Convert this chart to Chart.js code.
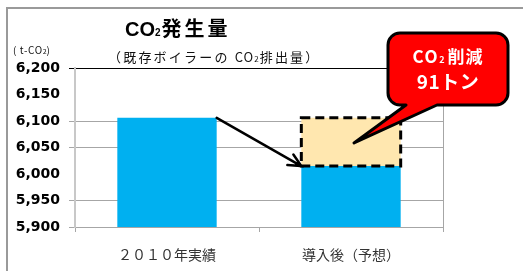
<!DOCTYPE html>
<html>
<head>
<meta charset="utf-8">
<script src="https://cdn.jsdelivr.net/npm/chart.js@4/dist/chart.umd.min.js"></script>
<style>
  html, body { margin: 0; padding: 0; background: #fff; }
  canvas { display: block; }
</style>
</head>
<body>
<canvas id="c" width="523" height="271"></canvas>
<script>
// CO2 emissions, existing boiler vs after introduction — stacked bar with
// dashed "reduction" block, arrow and red callout.
const categories = ["２０１０年実績", "導入後（予想）"];
const emissions = [6106, 6015];          // t-CO2
const reduction = [null, 91];            // t-CO2 cut, drawn on top of bar 2
const yMin = 5900, yMax = 6200, yStep = 50;
const hiddenGrid = [6150, 6000];         // gridlines that do not show in the source image

const BLUE = "#00B0F0";
const PEACH = "#FFE7AF";
const GRID = "#A6A6A6";
const JP = "'Noto Sans CJK JP', 'Noto Sans', sans-serif";

function gridColor(c) {
  const v = c.tick ? c.tick.value : null;
  if (v === yMax) return "#000";
  if (hiddenGrid.includes(v)) return "rgba(0,0,0,0)";
  return GRID;
}

// draws pieces of text left to right; {t, font, dy, ls}
function drawRun(ctx, x, y, parts) {
  let cx = x;
  for (const p of parts) {
    ctx.font = p.font;
    ctx.letterSpacing = (p.ls || 0) + "px";
    ctx.fillText(p.t, cx, y + (p.dy || 0));
    cx += ctx.measureText(p.t).width;
  }
  ctx.letterSpacing = "0px";
  return cx - x;
}
function runWidth(ctx, parts) {
  let w = 0;
  for (const p of parts) {
    ctx.font = p.font;
    ctx.letterSpacing = (p.ls || 0) + "px";
    w += ctx.measureText(p.t).width;
  }
  ctx.letterSpacing = "0px";
  return w;
}

const decor = {
  id: "decor",
  beforeDraw(chart) {
    const ctx = chart.ctx;
    ctx.save();
    ctx.fillStyle = "#fff";
    ctx.fillRect(0, 0, chart.width, chart.height);
    // outer frame (only top and left edges are inside the picture)
    ctx.strokeStyle = "#9a9a9a";
    ctx.lineWidth = 2;
    ctx.beginPath();
    ctx.moveTo(7, chart.height);
    ctx.lineTo(7, 8);
    ctx.lineTo(chart.width, 8);
    ctx.stroke();

    ctx.fillStyle = "#000";
    ctx.textBaseline = "alphabetic";
    ctx.textAlign = "left";
    // title
    drawRun(ctx, 125, 36, [
      { t: "CO", font: "bold 20px 'Liberation Sans', Arial, sans-serif" },
      { t: "2", font: "bold 10px 'Liberation Sans', Arial, sans-serif", ls: 1 },
      { t: "発生量", font: "bold 20px " + JP, ls: 3 },
    ]);
    // subtitle
    ctx.fillStyle = "#111";
    drawRun(ctx, 108, 62, [
      { t: "（既存ボイラーの ", font: "13px " + JP, ls: 2.2 },
      { t: "CO", font: "13px " + JP, ls: 1 },
      { t: "2", font: "8px " + JP, ls: 1 },
      { t: "排出量）", font: "13px " + JP, ls: 2.2 },
    ]);
    // unit
    drawRun(ctx, 13, 54, [
      { t: "( t-CO", font: "10px " + JP, ls: 0.6 },
      { t: "2", font: "7px " + JP },
      { t: ")", font: "10px " + JP },
    ]);
    ctx.restore();
  },
  afterDatasetsDraw(chart) {
    const ctx = chart.ctx;
    const area = chart.chartArea;
    const b0 = chart.getDatasetMeta(0).data[0];
    const b1 = chart.getDatasetMeta(0).data[1];
    const r1 = chart.getDatasetMeta(1).data[1];
    ctx.save();

    // dashed outline of the reduction block
    const rw = r1.width;
    ctx.strokeStyle = "#000";
    ctx.lineWidth = 3;
    ctx.setLineDash([9, 5]);
    ctx.strokeRect(r1.x - rw / 2, r1.y, rw, r1.base - r1.y);
    ctx.setLineDash([]);

    // arrow from bar 1 top-right to bar 2 top-left
    const x1 = b0.x + b0.width / 2, y1 = b0.y;
    const x2 = b1.x - b1.width / 2, y2 = b1.y;
    const ang = Math.atan2(y2 - y1, x2 - x1);
    ctx.lineWidth = 2.5;
    ctx.lineCap = "round";
    ctx.beginPath();
    ctx.moveTo(x1, y1);
    ctx.lineTo(x2, y2);
    const ah = 14;
    ctx.moveTo(x2 - ah * Math.cos(ang - 0.45), y2 - ah * Math.sin(ang - 0.45));
    ctx.lineTo(x2, y2);
    ctx.lineTo(x2 - ah * Math.cos(ang + 0.45), y2 - ah * Math.sin(ang + 0.45));
    ctx.stroke();

    // callout bubble with tail pointing into the reduction block
    const L = area.right - 55, R = area.right + 65;
    const T = area.top - 35, B = area.top + 37;
    const rad = 12;
    const tipX = r1.x + 3, tipY = (r1.y + r1.base) / 2 + 1;
    const tb1 = L + 18, tb2 = L + 49;
    ctx.beginPath();
    ctx.moveTo(L + rad, T);
    ctx.lineTo(R - rad, T);
    ctx.arcTo(R, T, R, T + rad, rad);
    ctx.lineTo(R, B - rad);
    ctx.arcTo(R, B, R - rad, B, rad);
    ctx.lineTo(tb2, B);
    ctx.lineTo(tipX, tipY);
    ctx.lineTo(tb1, B);
    ctx.lineTo(L + rad, B);
    ctx.arcTo(L, B, L, B - rad, rad);
    ctx.lineTo(L, T + rad);
    ctx.arcTo(L, T, L + rad, T, rad);
    ctx.closePath();
    ctx.fillStyle = "#FF0000";
    ctx.fill();
    ctx.lineWidth = 3;
    ctx.lineJoin = "round";
    ctx.strokeStyle = "#000";
    ctx.stroke();

    ctx.fillStyle = "#fff";
    ctx.textBaseline = "alphabetic";
    ctx.textAlign = "left";
    const cx = (L + R) / 2;
    const line1 = [
      { t: "CO", font: "bold 17px " + JP, ls: 1.5 },
      { t: "2", font: "bold 9px " + JP, ls: 3 },
      { t: "削減", font: "bold 17px " + JP, ls: 1 },
    ];
    drawRun(ctx, cx - runWidth(ctx, line1) / 2, T + 30, line1);
    const line2 = [{ t: "91トン", font: "bold 19px " + JP, ls: 0.5 }];
    drawRun(ctx, cx - runWidth(ctx, line2) / 2, T + 56, line2);
    ctx.restore();
  },
};

new Chart(document.getElementById("c"), {
  type: "bar",
  data: {
    labels: categories,
    datasets: [
      { data: emissions, backgroundColor: BLUE, stack: "s",
        categoryPercentage: 1, barPercentage: 0.54 },
      { data: reduction, backgroundColor: PEACH, stack: "s",
        categoryPercentage: 1, barPercentage: 0.54 },
    ],
  },
  options: {
    responsive: false,
    animation: false,
    events: [],
    layout: { padding: { left: 0, top: 68, right: 80, bottom: 0 } },
    plugins: { legend: { display: false }, tooltip: { enabled: false }, title: { display: false } },
    scales: {
      x: {
        stacked: true,
        ticks: { font: { family: JP, size: 14 }, color: "#333", padding: 14 },
        grid: {
          offset: true,
          color: (c) => (c.type === "tick" ? "rgba(0,0,0,0)" : GRID),
          tickColor: GRID,
          tickLength: 5,
        },
        border: { color: GRID, width: 1 },
        afterFit: (s) => { s.height = 44; },
      },
      y: {
        stacked: true,
        min: yMin,
        max: yMax,
        ticks: {
          stepSize: yStep,
          color: "#000",
          padding: 9,
          font: { family: "'DejaVu Sans', sans-serif", weight: "bold", size: 14 },
          callback: (v) => v.toLocaleString("en-US"),
        },
        grid: { color: gridColor, tickColor: gridColor, tickLength: 6, lineWidth: 1 },
        border: { color: "#C8C8C8", width: 2 },
        afterFit: (s) => { s.width = 75; },
      },
    },
  },
  plugins: [decor],
});
</script>
</body>
</html>
